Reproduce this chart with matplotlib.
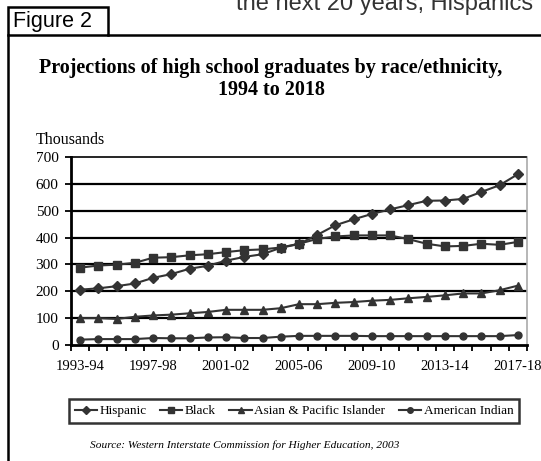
import matplotlib
matplotlib.use("Agg")
import matplotlib.pyplot as plt
from matplotlib.lines import Line2D
from matplotlib.patches import Rectangle
import numpy as np

W, H = 541, 461
INK = "#333333"
SERIF = ["Liberation Serif", "DejaVu Serif"]
SANS = ["Liberation Sans", "DejaVu Sans"]
plt.rcParams["font.family"] = SERIF

years = ["1993-94", "1994-95", "1995-96", "1996-97", "1997-98", "1998-99", "1999-00",
         "2000-01", "2001-02", "2002-03", "2003-04", "2004-05", "2005-06", "2006-07",
         "2007-08", "2008-09", "2009-10", "2010-11", "2011-12", "2012-13", "2013-14",
         "2014-15", "2015-16", "2016-17", "2017-18"]
hispanic = [206, 211, 219, 229, 250, 264, 284, 295, 314, 328, 338, 362, 376, 410,
            446, 468, 488, 505, 521, 537, 538, 544, 570, 595, 636]
black = [288, 296, 299, 306, 325, 327, 334, 338, 346, 353, 356, 363, 377, 395,
         404, 408, 408, 408, 394, 377, 367, 369, 377, 373, 384]
asian = [100, 100, 97, 105, 110, 113, 118, 123, 131, 131, 131, 137, 152, 152,
         157, 160, 165, 168, 174, 179, 185, 192, 192, 204, 221]
amind = [20, 22, 22, 22, 26, 25, 25, 28, 29, 26, 26, 31, 34, 34,
         34, 34, 33, 33, 33, 33, 33, 33, 33, 33, 37]

series = [("Hispanic", hispanic, "D", 5),
          ("Black", black, "s", 6),
          ("Asian & Pacific Islander", asian, "^", 6),
          ("American Indian", amind, "o", 5)]

def fx(x): return x / W
def fy(y): return 1 - y / H

fig = plt.figure(figsize=(W / 100, H / 100), dpi=100)

# page frame: "Figure 2" tab, top rule, left rule
fig.add_artist(Rectangle((fx(8), fy(35)), fx(100), 28 / H, transform=fig.transFigure,
                         fill=False, lw=1.8, ec="black"))
fig.add_artist(Line2D([fx(108), 1], [fy(35), fy(35)], transform=fig.transFigure, color="black", lw=1.8))
fig.add_artist(Line2D([fx(8), fx(8)], [fy(35), 0], transform=fig.transFigure, color="black", lw=1.8))
fig.text(fx(13), fy(22), "Figure 2", family=SANS, fontsize=15.5, va="center", ha="left")
# running text of the page above, cut by the top edge as in the scan
fig.text(fx(236), fy(10), "the next 20 years, Hispanics", family=SANS, fontsize=17,
         color="#333333", va="baseline", ha="left")

fig.text(fx(271), fy(79), "Projections of high school graduates by race/ethnicity,\n1994 to 2018",
         fontsize=14.5, fontweight="bold", ha="center", va="center", linespacing=1.15)
fig.text(fx(36), fy(140), "Thousands", fontsize=11.5, ha="left", va="center")

ax = fig.add_axes([fx(71), fy(345), (527 - 71) / W, (345 - 157) / H])
x = np.arange(len(years))
for name, vals, mk, ms in series:
    ax.plot(x, vals, color=INK, lw=1.5, marker=mk, ms=ms, mfc=INK, mec=INK, label=name)

ax.set_xlim(-0.5, len(years) - 0.5)
ax.set_ylim(0, 700)
ax.set_yticks(range(0, 701, 100))
for v in range(100, 700, 100):
    ax.axhline(v, color="black", lw=1.6, zorder=0)
ax.set_xticks(x[::4])
ax.set_xticklabels(years[::4], fontsize=10.5)
ax.set_xticks(np.arange(-0.5, len(years)), minor=True)
ax.tick_params(axis="x", which="major", length=0, pad=11)
ax.tick_params(axis="x", which="minor", length=4, width=1.3, direction="out")
ax.tick_params(axis="y", length=4, width=1.3, direction="out", pad=5, labelsize=11)

ax.spines["left"].set_linewidth(2)
ax.spines["bottom"].set_linewidth(2)
ax.spines["top"].set_linestyle((0, (1, 1)))
ax.spines["top"].set_linewidth(1.2)
ax.spines["right"].set_linestyle((0, (1, 1)))
ax.spines["right"].set_color("#aaaaaa")
ax.spines["right"].set_linewidth(1.2)

leg = fig.legend(loc="center", bbox_to_anchor=(fx(294), fy(411)), ncol=4, frameon=True,
                 fancybox=False, edgecolor="black", fontsize=9.5,
                 handlelength=1.7, handletextpad=0.2, columnspacing=1.0, borderpad=0.45)
leg.get_frame().set_linewidth(1.8)
for h in leg.legend_handles:
    h.set_markersize(4)

fig.text(fx(90), fy(445), "Source: Western Interstate Commission for Higher Education, 2003",
         fontsize=8.2, style="italic", ha="left", va="center")

fig.savefig("out.png", dpi=100)
